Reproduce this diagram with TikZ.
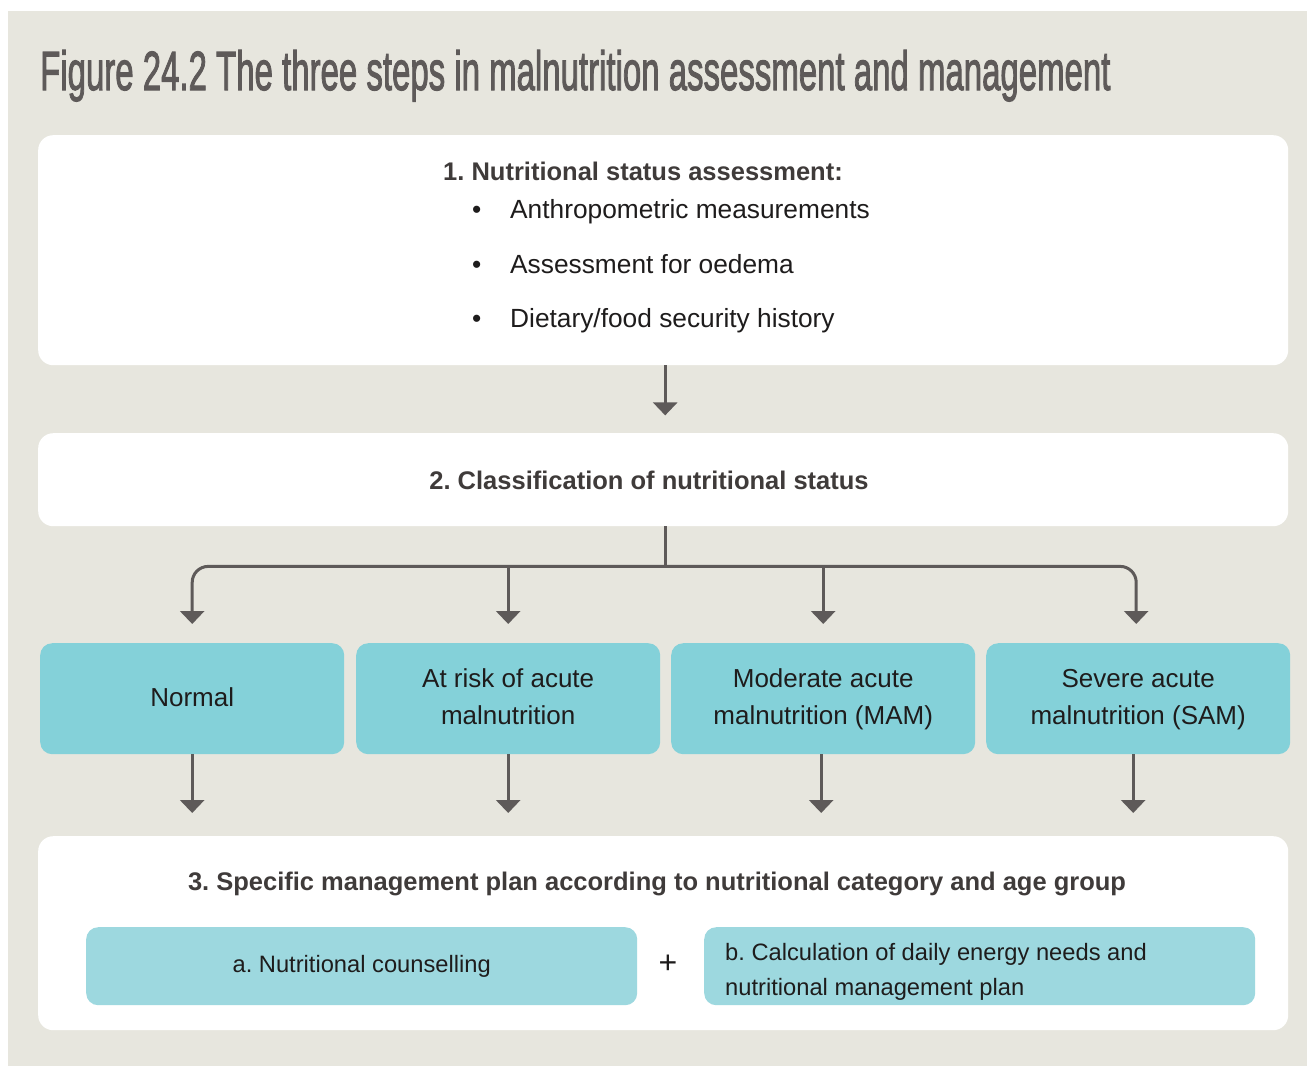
\documentclass[tikz,border=0pt]{standalone}
\usepackage{fontspec}
\setmainfont{Liberation Sans}
\newfontfamily\titlefont[FakeBold=2.2]{Liberation Sans}
\usetikzlibrary{arrows.meta}
\definecolor{bg}{HTML}{E7E6DE}
\definecolor{tealA}{HTML}{84D1D9}
\definecolor{tealB}{HTML}{9DD8DF}
\definecolor{arrowc}{HTML}{5E5A59}
\definecolor{headc}{HTML}{3F3B3A}
\definecolor{txtc}{HTML}{1E1C1C}
\begin{document}
\begin{tikzpicture}[x=1pt,y=-1pt,
  whitebox/.style={fill=white, rounded corners=15pt, anchor=north west, inner sep=0pt},
  catbox/.style={fill=tealA, rounded corners=12pt, anchor=north west, inner sep=0pt,
     minimum width=304pt, minimum height=111pt, align=center, text=txtc,
     font=\fontsize{26}{37}\selectfont},
  subbox/.style={fill=tealB, rounded corners=12pt, anchor=north west, inner sep=0pt,
     minimum width=551pt, minimum height=78pt},
  headtxt/.style={anchor=base, text=headc, font=\fontsize{25.5}{30}\selectfont\bfseries, inner sep=0pt},
  bodytxt/.style={anchor=base west, text=txtc, font=\fontsize{26.3}{30}\selectfont, inner sep=0pt},
  subtxt/.style={text=txtc, font=\fontsize{23.7}{35}\selectfont, inner sep=0pt},
  arr/.style={draw=arrowc, line width=3pt, -{Triangle[width=24pt,length=13pt]}},
  plainline/.style={draw=arrowc, line width=3pt}
]
\useasboundingbox (0,0) rectangle (1307,1066);
\fill[bg] (8,11) rectangle (1307,1066);

% title
\node[anchor=base west, inner sep=0pt, text=arrowc] (title) at (40,90)
  {\resizebox{1070pt}{40pt}{\titlefont Figure 24.2 The three steps in malnutrition assessment and management}};

% step 1
\node[whitebox, minimum width=1250pt, minimum height=230pt] (s1) at (38,135) {};
\node[headtxt, anchor=base west] (h1) at (443,180) {1.\ Nutritional status assessment:};
\node[bodytxt] (bu1) at (472,218) {•};
\node[bodytxt] (i1) at (510,218) {Anthropometric measurements};
\node[bodytxt] (bu2) at (472,273) {•};
\node[bodytxt] (i2) at (510,273) {Assessment for oedema};
\node[bodytxt] (bu3) at (472,327) {•};
\node[bodytxt] (i3) at (510,327) {Dietary/food security history};

% step 2
\node[whitebox, minimum width=1250pt, minimum height=93pt] (s2) at (38,433) {};
\node[headtxt] (h2) at (649,489) {2.\ Classification of nutritional status};

% categories
\node[catbox] (b1) at (40,643) {\strut Normal};
\node[catbox] (b2) at (356,643) {\strut At risk of acute\\\strut malnutrition};
\node[catbox] (b3) at (671,643) {\strut Moderate acute\\\strut malnutrition (MAM)};
\node[catbox] (b4) at (986,643) {\strut Severe acute\\\strut malnutrition (SAM)};

% step 3
\node[whitebox, minimum width=1250pt, minimum height=194pt] (s3) at (38,836) {};
\node[headtxt] (h3) at (657,890) {3.\ Specific management plan according to nutritional category and age group};
\node[subbox] (a) at (86,927) {};
\node[subtxt] (at) at (a.center) {a.\ Nutritional counselling};
\node[subtxt, font=\fontsize{32}{34}\selectfont] (plus) at (668,964) {+};
\node[subbox] (b) at (704,927) {};
\node[subtxt, anchor=west, align=left] (bt) at (725,972)
  {b.\ Calculation of daily energy needs and\\nutritional management plan};

% connectors
\draw[arr] ([xshift=2pt]s1.south) -- ++(0,50) coordinate (e1);
\draw[plainline] ([xshift=2pt]s2.south) -- ++(0,40) coordinate (j);
\draw[arr, rounded corners=16pt, shorten >=19pt] (j) -| (b1.north);
\draw[arr, rounded corners=16pt, shorten >=19pt] (j) -| ([xshift=-2pt]b4.north);
\draw[arr, shorten >=19pt] (j -| b2.north) -- (b2.north);
\draw[arr, shorten >=19pt] (j -| b3.north) -- (b3.north);

\foreach \n/\dx in {b1/0,b2/0,b3/-2,b4/-5}{
  \draw[arr, shorten >=23pt] ([xshift=\dx pt]\n.south) -- ([xshift=\dx pt]\n.south |- s3.north);
}
\end{tikzpicture}
\end{document}
